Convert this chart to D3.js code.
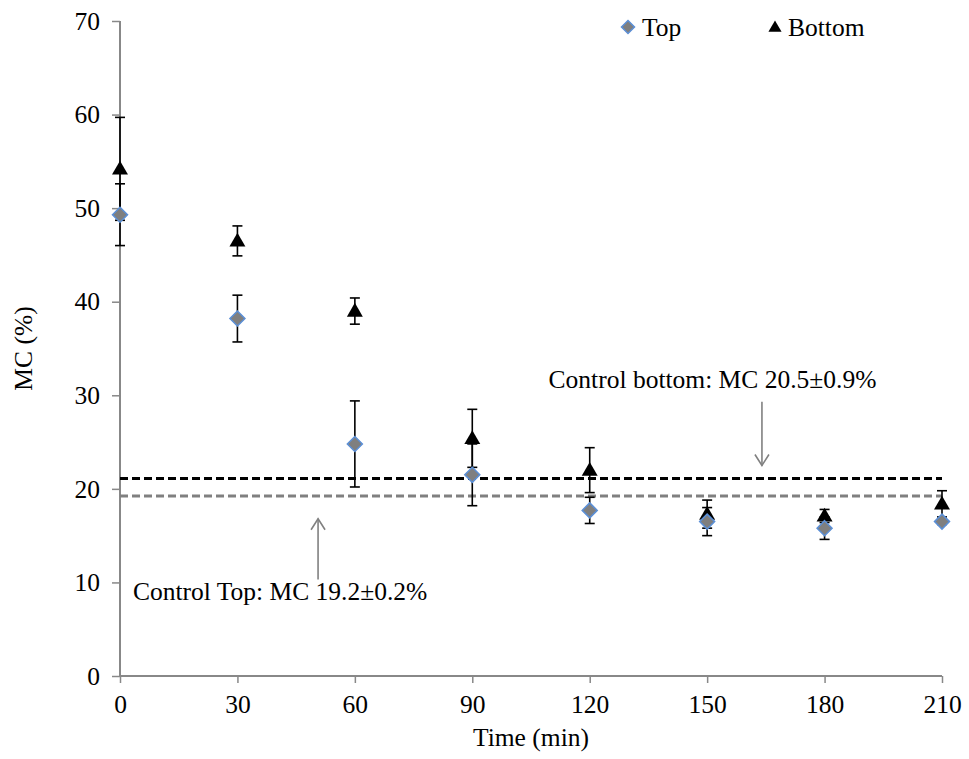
<!DOCTYPE html>
<html>
<head>
<meta charset="utf-8">
<script src="https://cdn.jsdelivr.net/npm/d3@7"></script>
<style>
  html, body { margin: 0; padding: 0; background: #fff; }
  svg { display: block; font-family: "Liberation Serif", "Times New Roman", serif; }
</style>
</head>
<body>
<svg id="chart" width="969" height="759"></svg>
<script>
const times = [0, 30, 60, 90, 120, 150, 180, 210];
const topMC = [49.3, 38.2, 24.8, 21.5, 17.7, 16.5, 15.8, 16.5];
const topErr = [3.3, 2.5, 4.6, 3.3, 1.4, 1.5, 1.2, 0.3];
const bottomMC = [54.2, 46.5, 39.0, 25.4, 22.0, 17.3, 17.1, 18.4];
const bottomErr = [5.5, 1.6, 1.4, 3.1, 2.4, 1.5, 0.7, 1.4];
const xTicks = [0, 30, 60, 90, 120, 150, 180, 210];
const yTicks = [0, 10, 20, 30, 40, 50, 60, 70];
const controlBottom = 21.1;
const controlTop = 19.25;
const seriesNames = ["Top", "Bottom"];
const annBottom = { text: "Control bottom: MC 20.5±0.9%", tx: 109.5, ty: 30.8, ax: 164, from: 29.3, to: 22.5 };
const annTop = { text: "Control Top: MC 19.2±0.2%", tx: 3.3, ty: 8.1, ax: 50.6, from: 10.3, to: 16.8 };

const svg = d3.select("#chart");
const x = d3.scaleLinear().domain([0, 210]).range([120, 942]);
const y = d3.scaleLinear().domain([0, 70]).range([676, 21]);
const FS = 25.5;

// axes
const yAxis = svg.append("g").attr("transform", `translate(${x(0)},0)`)
  .call(d3.axisLeft(y).tickValues(yTicks).tickSize(8).tickPadding(12).tickFormat(d3.format("d")));
const xAxis = svg.append("g").attr("transform", `translate(0,${y(0)})`)
  .call(d3.axisBottom(x).tickValues(xTicks).tickSize(7).tickPadding(12).tickFormat(d3.format("d")));
[yAxis, xAxis].forEach(g => {
  g.select(".domain").attr("stroke", "#888").attr("stroke-width", 2);
  g.selectAll(".tick line").attr("stroke", "#888").attr("stroke-width", 1.5);
  g.selectAll(".tick text").attr("fill", "#000").style("font-size", FS + "px")
    .style("font-family", '"Liberation Serif", "Times New Roman", serif');
});
yAxis.select(".domain").attr("d", `M0,${y(70)}V${y(0)}`);
xAxis.select(".domain").attr("d", `M${x(0)},0H${x(210)}`);

// control lines
svg.append("line").attr("x1", x(0)).attr("x2", x(210)).attr("y1", y(controlBottom)).attr("y2", y(controlBottom))
  .attr("stroke", "#000").attr("stroke-width", 3).attr("stroke-dasharray", "8,4");
svg.append("line").attr("x1", x(0)).attr("x2", x(210)).attr("y1", y(controlTop)).attr("y2", y(controlTop))
  .attr("stroke", "#808080").attr("stroke-width", 3).attr("stroke-dasharray", "8,4");

// error bars
function errBars(vals, errs) {
  const g = svg.append("g").attr("stroke", "#000").attr("stroke-width", 1.6);
  times.forEach((t, i) => {
    const cx = x(t), y1 = y(vals[i] + errs[i]), y2 = y(vals[i] - errs[i]);
    g.append("line").attr("x1", cx).attr("x2", cx).attr("y1", y1).attr("y2", y2);
    g.append("line").attr("x1", cx - 5).attr("x2", cx + 5).attr("y1", y1).attr("y2", y1);
    g.append("line").attr("x1", cx - 5).attr("x2", cx + 5).attr("y1", y2).attr("y2", y2);
  });
}
errBars(bottomMC, bottomErr);
errBars(topMC, topErr);

const tri = d3.symbol().type(d3.symbolTriangle).size(110);
const dia = (cx, cy, r) => `M${cx},${cy - r}L${cx + r},${cy}L${cx},${cy + r}L${cx - r},${cy}Z`;

// bottom triangles
svg.append("g").selectAll("path").data(times).join("path")
  .attr("d", tri).attr("transform", (t, i) => `translate(${x(t)},${y(bottomMC[i]) + 1})`)
  .attr("fill", "#000");
// top diamonds
svg.append("g").selectAll("path").data(times).join("path")
  .attr("d", (t, i) => dia(x(t), y(topMC[i]), 7.5))
  .attr("fill", "#7f7f7f").attr("stroke", "#5b8fd6").attr("stroke-width", 1.5);

// legend
svg.append("path").attr("d", dia(628, 27, 6.5)).attr("fill", "#7f7f7f").attr("stroke", "#5b8fd6").attr("stroke-width", 1.5);
svg.append("text").attr("x", 642).attr("y", 36).style("font-size", FS + "px").text(seriesNames[0]);
svg.append("path").attr("d", d3.symbol().type(d3.symbolTriangle).size(75)).attr("transform", "translate(775,28)").attr("fill", "#000");
svg.append("text").attr("x", 788).attr("y", 36).style("font-size", FS + "px").text(seriesNames[1]);

// annotations
function arrow(a) {
  const ax = x(a.ax), yf = y(a.from), yt = y(a.to);
  const dir = yt > yf ? 1 : -1;
  const g = svg.append("g").attr("stroke", "#808080").attr("stroke-width", 1.6).attr("fill", "none");
  g.append("line").attr("x1", ax).attr("x2", ax).attr("y1", yf).attr("y2", yt);
  g.append("path").attr("d", `M${ax - 7},${yt - dir * 11}L${ax},${yt}L${ax + 7},${yt - dir * 11}`);
  svg.append("text").attr("x", x(a.tx)).attr("y", y(a.ty)).style("font-size", FS + "px").text(a.text);
}
arrow(annBottom);
arrow(annTop);

// axis titles
svg.append("text").attr("x", 531).attr("y", 746).attr("text-anchor", "middle").style("font-size", FS + "px").text("Time (min)");
svg.append("text").attr("transform", `translate(32,${(y(0) + y(70)) / 2}) rotate(-90)`)
  .attr("text-anchor", "middle").style("font-size", FS + "px").text("MC (%)");
</script>
</body>
</html>
